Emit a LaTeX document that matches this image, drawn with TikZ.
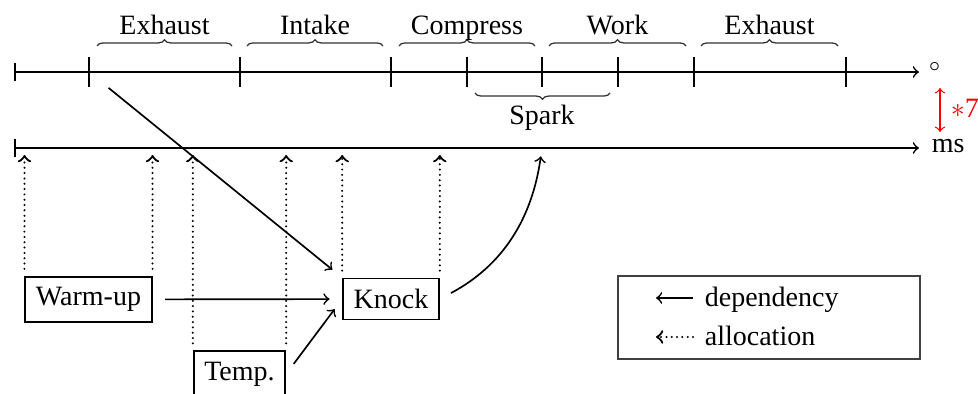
\documentclass[tikz,border=0pt]{standalone}
\usepackage{fontspec}
\setmainfont{Liberation Serif}
\usetikzlibrary{decorations.pathreplacing,calc}
\begin{document}
\begin{tikzpicture}[x=0.3571pt,y=-0.3571pt,
  line width=0.6pt,
  box/.style={draw,rectangle,inner sep=3.8pt,line width=0.6pt},
  dep/.style={->,shorten >=4.5pt,shorten <=4.5pt},
  dotline/.style={dash pattern=on 0pt off 1.9pt,line cap=round,line width=0.8pt},
  alloc/.style={->,dotline,shorten >=2.5pt,shorten <=2.5pt},
  tickmark/.style={line width=0.7pt},
  phase/.style={decorate,decoration={brace,amplitude=2.2pt},line width=0.45pt,draw=black!80},
  lbl/.style={anchor=base,inner sep=0pt},
]
\useasboundingbox (0,0) rectangle (978,394);

% crank-angle axis and time axis
\coordinate (deg0) at (14,72);
\coordinate (degEnd) at (919,72);
\coordinate (ms0) at (14,148);
\coordinate (msEnd) at (919,148);
\draw[|->] (deg0) -- (degEnd);
\node[anchor=base west,inner sep=0pt] (degunit) at (928,82) {$^\circ$};
\draw[|->] (ms0) -- (msEnd);
\node[anchor=base west,inner sep=0pt] (msunit) at (931,153) {ms};

% ticks on the crank-angle axis
\foreach \x [count=\i] in {89,240,391,467,542,618,694,846}
  \draw[tickmark] (\x,57) -- (\x,87) coordinate[pos=0.5] (t\i);

% engine strokes
\foreach \a/\b/\t [count=\i] in {97/232/Exhaust,247/383/Intake,399/535/Compress,549/686/Work,701/838/Exhaust}{
  \draw[phase] (\a,46) -- (\b,46);
  \node[lbl] (stroke\i) at ({(\a+\b)/2},35) {\t};
}
\draw[phase] (610,93) -- (475,93);
\node[lbl] (spark) at (542,125) {Spark};

% scale factor between the axes
\coordinate (sTop) at (940,88);
\coordinate (sBot) at (940,132);
\draw[red,<->,line width=0.45pt] (sTop) -- (sBot);
\node[anchor=base west,inner sep=0pt,text=red] (factor) at (950,118) {$\ast$7};

% tasks
\node[box] (warm) at (88.5,299.5) {Warm-up};
\node[box] (knock) at (391,299) {Knock};
\node[box] (temp) at (239.5,374) {Temp.};

% allocations on the time axis
\foreach \n/\c in {warm/north west,warm/north east,temp/north west,temp/north east,knock/north west,knock/north east}
  \draw[alloc] (\n.\c) -- (\n.\c |- ms0);

% dependencies
\draw[dep,shorten <=9pt] (t1) -- (knock.north west);
\draw[dep] (warm) -- (knock);
\draw[dep] (temp.east) -- (knock.west);
\coordinate (sparkAt) at (542,148);
\draw[->,shorten <=4.5pt,shorten >=3pt] (knock.east) to[out=28,in=-98] (sparkAt);

% legend
\node[draw=black!75,line width=0.45pt,minimum width=302*0.3571pt,minimum height=83*0.3571pt,inner sep=0pt] (legend) at (769,317.5) {};
\coordinate (l1a) at (693,298);
\coordinate (l1b) at (656,298);
\coordinate (l2a) at (693,337);
\coordinate (l2b) at (656,337);
\draw[->] (l1a) -- (l1b);
\draw[->,dotline] (l2a) -- (l2b);
\node[anchor=base west,inner sep=0pt] (ldep) at (704,307) {dependency};
\node[anchor=base west,inner sep=0pt] (lalloc) at (704,346) {allocation};
\end{tikzpicture}
\end{document}
